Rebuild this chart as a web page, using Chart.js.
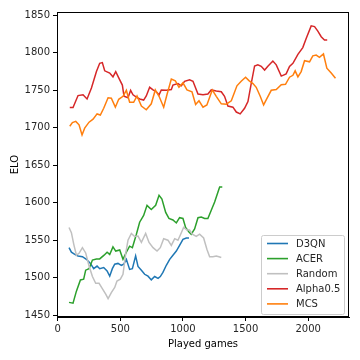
<!DOCTYPE html>
<html>
<head>
<meta charset="utf-8">
<script src="https://cdn.jsdelivr.net/npm/chart.js@4/dist/chart.umd.min.js"></script>
<style>
  html, body { margin: 0; padding: 0; background: #fff; }
  #wrap { width: 360px; height: 360px; }
</style>
</head>
<body>
<div id="wrap"><canvas id="eloChart" width="360" height="360"></canvas></div>
<script>
const xTicks = [0, 500, 1000, 1500, 2000];
const yTicks = [1450, 1500, 1550, 1600, 1650, 1700, 1750, 1800, 1850];

const d3qnGames = [90, 109, 136, 162, 197, 229, 261, 287, 314, 335, 367, 394, 415, 436, 455, 481, 508, 527, 548, 574, 596, 622, 641, 668, 694, 721, 747, 774, 801, 819, 840, 867, 894, 920, 947, 973, 1000, 1027, 1048];
const d3qnElo = [1540, 1534, 1531, 1529, 1528, 1524.5, 1519, 1512, 1515.5, 1512, 1513.5, 1509, 1502, 1512, 1518, 1519, 1516.5, 1518, 1524.5, 1511, 1512, 1529, 1515, 1510, 1504.5, 1502, 1497, 1501.5, 1499, 1501.5, 1507, 1516.5, 1524.5, 1530, 1535.5, 1543, 1551, 1553, 1553];

const acerGames = [90, 122, 149, 181, 207, 223, 250, 277, 309, 335, 370, 394, 415, 441, 463, 495, 521, 548, 574, 596, 628, 654, 686, 713, 747, 782, 809, 832, 862, 888, 920, 947, 973, 1000, 1021, 1048, 1066, 1093, 1120, 1146, 1173, 1199, 1226, 1253, 1279, 1293, 1314];
const acerElo = [1467, 1466, 1482, 1497, 1498, 1510, 1512, 1523.5, 1525, 1525, 1530, 1534, 1531, 1541, 1535.5, 1537, 1524.5, 1534, 1542, 1540, 1558, 1574, 1583, 1596.5, 1591, 1596.5, 1610, 1605, 1587, 1579, 1577, 1573, 1580, 1579, 1567, 1561, 1558, 1565, 1580, 1581, 1579, 1579, 1590, 1601, 1614, 1621, 1621];

const randomGames = [90, 109, 128, 149, 170, 197, 223, 250, 277, 303, 330, 356, 383, 402, 428, 455, 473, 500, 521, 543, 561, 588, 614, 641, 668, 702, 729, 761, 793, 819, 846, 880, 907, 934, 960, 987, 1005, 1032, 1053, 1075, 1106, 1133, 1165, 1191, 1213, 1239, 1266, 1287, 1306];
const randomElo = [1567, 1560, 1544.5, 1530, 1532.5, 1540, 1533, 1515.5, 1501.5, 1492.5, 1492.5, 1485.5, 1478, 1472, 1480, 1487, 1495.5, 1498, 1504.5, 1532.5, 1550, 1559, 1555, 1555.5, 1547, 1559, 1547, 1540, 1535.5, 1540, 1552, 1550, 1543, 1552, 1550, 1560, 1567, 1563.5, 1563.5, 1558, 1555, 1558, 1553, 1538, 1528, 1528, 1529, 1528, 1527];

const alphaGames = [96, 122, 162, 202, 234, 269, 309, 335, 356, 375, 415, 441, 463, 495, 516, 529, 561, 582, 601, 628, 654, 686, 707, 734, 761, 787, 809, 827, 867, 907, 920, 960, 987, 1013, 1053, 1080, 1120, 1160, 1199, 1226, 1266, 1306, 1332, 1359, 1399, 1426, 1457, 1492, 1519, 1545, 1572, 1598, 1625, 1652, 1678, 1718, 1745, 1785, 1824, 1851, 1878, 1918, 1957, 1984, 2024, 2051, 2077, 2104, 2130, 2152];
const alphaElo = [1727, 1727, 1743, 1744, 1738.5, 1753, 1775, 1786, 1787, 1776, 1773, 1768, 1775, 1764, 1757, 1742, 1740, 1750, 1744, 1741, 1738.5, 1737, 1742.5, 1754, 1750.5, 1748, 1744, 1750.5, 1750, 1751, 1757, 1759, 1756, 1762, 1764, 1762, 1745, 1744, 1745, 1750.5, 1749, 1748, 1742, 1729, 1727.5, 1721, 1718.5, 1726, 1735, 1759, 1782.5, 1784, 1782, 1777, 1782, 1789, 1784, 1769, 1772, 1782, 1786, 1798, 1807, 1819, 1836, 1835, 1829, 1821.5, 1817, 1817];

const mcsGames = [96, 117, 144, 170, 194, 215, 250, 282, 314, 340, 367, 402, 428, 460, 487, 521, 548, 574, 606, 633, 668, 707, 747, 779, 809, 846, 872, 907, 939, 968, 1000, 1032, 1072, 1101, 1128, 1160, 1191, 1234, 1266, 1306, 1346, 1386, 1431, 1465, 1500, 1527, 1559, 1585, 1617, 1644, 1673, 1705, 1745, 1785, 1819, 1851, 1878, 1896, 1918, 1944, 1971, 2011, 2037, 2064, 2090, 2122, 2149, 2184, 2218];
const mcsElo = [1702, 1707, 1708.5, 1704, 1690.5, 1699.5, 1707.5, 1711.5, 1718.5, 1717, 1726, 1740, 1739.5, 1727.5, 1738, 1742, 1750, 1734, 1734, 1742.5, 1729, 1724, 1732, 1750.5, 1742, 1727.5, 1744, 1765, 1762.5, 1754, 1760, 1750.5, 1748, 1731, 1736, 1727.5, 1730.5, 1750.5, 1742, 1732, 1731.5, 1736, 1756, 1762, 1767.5, 1763, 1759, 1754, 1742, 1730.5, 1740, 1750, 1751, 1757.5, 1758, 1767.5, 1770, 1776, 1768, 1775, 1789.5, 1788, 1796, 1797, 1794, 1798.5, 1779.5, 1773, 1766];

const seriesNames = ['D3QN', 'ACER', 'Random', 'Alpha0.5', 'MCS'];
const seriesColors = ['#1f77b4', '#2ca02c', '#c0c0c0', '#d62728', '#ff7f0e'];
const seriesGames = [d3qnGames, acerGames, randomGames, alphaGames, mcsGames];
const seriesElo = [d3qnElo, acerElo, randomElo, alphaElo, mcsElo];

const FONT = "'DejaVu Sans', sans-serif";

// full frame around plot + matplotlib-style legend in lower right
const framePlugin = {
    id: 'frame',
    afterDraw(chart) {
        const ctx = chart.ctx;
        const a = chart.chartArea;
        ctx.save();
        ctx.strokeStyle = '#000';
        ctx.lineWidth = 1;
        ctx.strokeRect(Math.round(a.left) + 0.5, Math.round(a.top) + 0.5,
            Math.round(a.right - a.left) - 1, Math.round(a.bottom - a.top) - 1);

        const bx = a.right - 88, by = a.bottom - 82, bw = 83, bh = 79;
        ctx.fillStyle = 'rgba(255,255,255,0.8)';
        ctx.strokeStyle = '#cccccc';
        ctx.beginPath();
        ctx.roundRect(bx + 0.5, by + 0.5, bw, bh, 2);
        ctx.fill();
        ctx.stroke();
        ctx.font = '10px ' + FONT;
        ctx.textBaseline = 'middle';
        chart.data.datasets.forEach((ds, i) => {
            const y = by + 8.5 + i * 15.1;
            ctx.strokeStyle = ds.borderColor;
            ctx.lineWidth = 1.6;
            ctx.beginPath();
            ctx.moveTo(bx + 6, y);
            ctx.lineTo(bx + 27, y);
            ctx.stroke();
            ctx.fillStyle = '#262626';
            ctx.fillText(ds.label, bx + 35, y + 0.5);
        });
        ctx.restore();
    }
};

new Chart(document.getElementById('eloChart'), {
    type: 'line',
    data: {
        datasets: seriesNames.map((name, i) => ({
            label: name,
            data: seriesGames[i].map((g, j) => ({ x: g, y: seriesElo[i][j] })),
            borderColor: seriesColors[i],
            borderWidth: 1.5,
            pointRadius: 0,
            tension: 0,
            fill: false,
            order: seriesNames.length - i,
        }))
    },
    options: {
        responsive: false,
        animation: false,
        layout: { padding: { left: 0, right: 11, top: 12, bottom: 0 } },
        plugins: { legend: { display: false }, tooltip: { enabled: false } },
        scales: {
            x: {
                type: 'linear',
                min: -6,
                max: 2326,
                afterBuildTicks: s => { s.ticks = xTicks.map(v => ({ value: v })); },
                afterFit: s => { s.height = 43; },
                ticks: { color: '#262626', font: { family: FONT, size: 10 }, padding: 2, maxRotation: 0, callback: v => String(v) },
                grid: { drawOnChartArea: false, color: '#000', tickLength: 4 },
                border: { color: '#000' },
                title: { display: true, text: 'Played games', color: '#000', font: { family: FONT, size: 10 }, padding: { top: 2, bottom: 10 } }
            },
            y: {
                type: 'linear',
                min: 1447.5,
                max: 1854.5,
                afterBuildTicks: s => { s.ticks = yTicks.map(v => ({ value: v })); },
                afterFit: s => { s.width = 57; },
                ticks: { color: '#262626', font: { family: FONT, size: 10 }, padding: 3, callback: v => String(v) },
                grid: { drawOnChartArea: false, color: '#000', tickLength: 4 },
                border: { color: '#000' },
                title: { display: true, text: 'ELO', color: '#000', font: { family: FONT, size: 10 }, padding: { top: 9, bottom: 4 } }
            }
        }
    },
    plugins: [framePlugin]
});
</script>
</body>
</html>
